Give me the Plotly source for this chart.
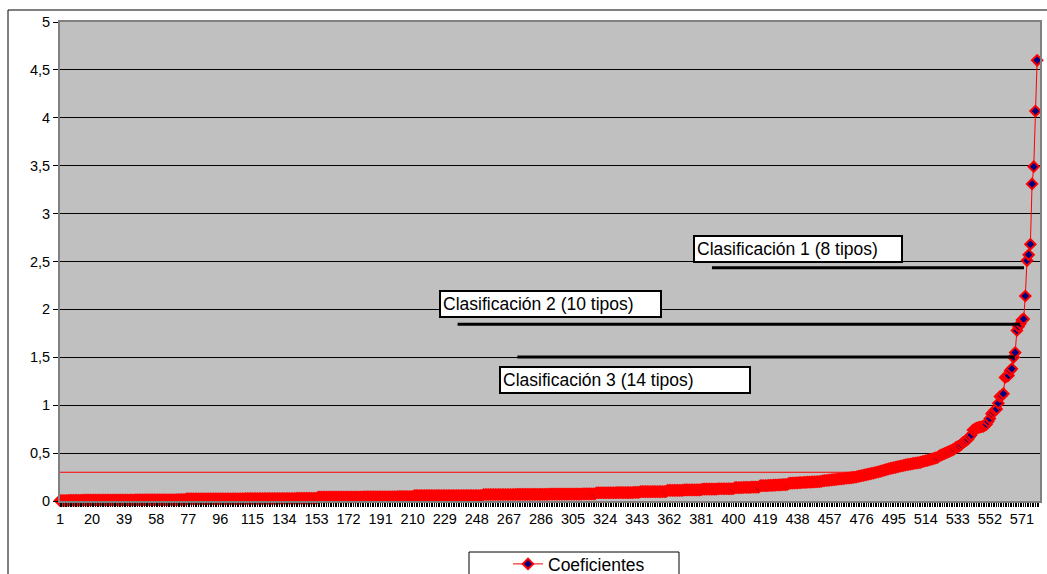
import plotly.graph_objects as go

# ---------------- data ----------------
coeficientes = [
    0.004, 0.004, 0.005, 0.005, 0.005, 0.006, 0.006, 0.006, 0.006, 0.007, 0.007, 0.007, 0.007, 0.007, 0.008, 0.008, 0.008, 0.008, 0.008, 0.008,
    0.009, 0.009, 0.009, 0.009, 0.009, 0.009, 0.009, 0.009, 0.009, 0.009, 0.010, 0.010, 0.010, 0.010, 0.010, 0.010, 0.010, 0.010, 0.010, 0.010,
    0.010, 0.010, 0.010, 0.010, 0.010, 0.011, 0.011, 0.011, 0.011, 0.011, 0.011, 0.011, 0.011, 0.011, 0.011, 0.012, 0.012, 0.012, 0.012, 0.012,
    0.012, 0.012, 0.012, 0.012, 0.012, 0.013, 0.013, 0.013, 0.013, 0.013, 0.014, 0.014, 0.014, 0.014, 0.014, 0.022, 0.022, 0.022, 0.022, 0.022,
    0.022, 0.022, 0.022, 0.022, 0.022, 0.022, 0.022, 0.022, 0.022, 0.022, 0.022, 0.022, 0.022, 0.022, 0.022, 0.023, 0.023, 0.023, 0.023, 0.023,
    0.023, 0.023, 0.023, 0.023, 0.023, 0.023, 0.023, 0.023, 0.023, 0.023, 0.024, 0.024, 0.024, 0.024, 0.024, 0.024, 0.024, 0.024, 0.024, 0.024,
    0.025, 0.025, 0.025, 0.025, 0.025, 0.025, 0.025, 0.025, 0.025, 0.025, 0.026, 0.026, 0.026, 0.026, 0.026, 0.026, 0.026, 0.026, 0.026, 0.026,
    0.027, 0.027, 0.027, 0.027, 0.027, 0.027, 0.027, 0.027, 0.027, 0.027, 0.027, 0.027, 0.027, 0.040, 0.040, 0.040, 0.040, 0.040, 0.040, 0.040,
    0.040, 0.040, 0.040, 0.040, 0.040, 0.040, 0.040, 0.040, 0.040, 0.040, 0.041, 0.041, 0.041, 0.041, 0.041, 0.041, 0.041, 0.041, 0.041, 0.041,
    0.042, 0.042, 0.042, 0.042, 0.042, 0.042, 0.042, 0.042, 0.042, 0.042, 0.043, 0.043, 0.043, 0.043, 0.043, 0.043, 0.043, 0.043, 0.043, 0.043,
    0.045, 0.045, 0.045, 0.045, 0.045, 0.045, 0.045, 0.045, 0.045, 0.045, 0.055, 0.055, 0.055, 0.055, 0.055, 0.055, 0.055, 0.055, 0.055, 0.055,
    0.055, 0.055, 0.055, 0.055, 0.055, 0.055, 0.055, 0.055, 0.055, 0.055, 0.056, 0.056, 0.056, 0.056, 0.056, 0.056, 0.056, 0.056, 0.056, 0.056,
    0.057, 0.057, 0.057, 0.057, 0.057, 0.057, 0.057, 0.057, 0.057, 0.057, 0.057, 0.068, 0.068, 0.068, 0.068, 0.068, 0.068, 0.068, 0.068, 0.068,
    0.068, 0.068, 0.068, 0.068, 0.068, 0.068, 0.068, 0.068, 0.068, 0.068, 0.069, 0.069, 0.069, 0.069, 0.069, 0.069, 0.069, 0.069, 0.069, 0.069,
    0.070, 0.070, 0.070, 0.070, 0.070, 0.070, 0.070, 0.070, 0.070, 0.070, 0.071, 0.071, 0.071, 0.071, 0.071, 0.071, 0.071, 0.071, 0.071, 0.071,
    0.072, 0.072, 0.072, 0.072, 0.072, 0.072, 0.072, 0.072, 0.072, 0.072, 0.074, 0.074, 0.074, 0.074, 0.074, 0.074, 0.074, 0.074, 0.086, 0.086,
    0.086, 0.086, 0.086, 0.086, 0.086, 0.086, 0.086, 0.086, 0.086, 0.086, 0.088, 0.088, 0.088, 0.088, 0.088, 0.088, 0.088, 0.088, 0.088, 0.088,
    0.090, 0.090, 0.090, 0.090, 0.097, 0.097, 0.097, 0.097, 0.097, 0.097, 0.097, 0.097, 0.099, 0.099, 0.099, 0.099, 0.099, 0.099, 0.099, 0.099,
    0.112, 0.112, 0.112, 0.112, 0.112, 0.112, 0.112, 0.112, 0.112, 0.112, 0.115, 0.115, 0.115, 0.115, 0.115, 0.115, 0.115, 0.115, 0.115, 0.115,
    0.118, 0.125, 0.125, 0.125, 0.125, 0.125, 0.125, 0.125, 0.125, 0.125, 0.128, 0.128, 0.128, 0.128, 0.128, 0.128, 0.128, 0.128, 0.128, 0.128,
    0.140, 0.140, 0.140, 0.140, 0.140, 0.142, 0.142, 0.142, 0.142, 0.142, 0.145, 0.145, 0.145, 0.145, 0.145, 0.160, 0.160, 0.160, 0.160, 0.160,
    0.162, 0.163, 0.164, 0.165, 0.166, 0.167, 0.168, 0.169, 0.170, 0.171, 0.172, 0.174, 0.185, 0.186, 0.187, 0.188, 0.189, 0.190, 0.191, 0.192,
    0.193, 0.194, 0.195, 0.196, 0.197, 0.198, 0.199, 0.200, 0.201, 0.202, 0.203, 0.205, 0.210, 0.212, 0.214, 0.216, 0.218, 0.220, 0.222, 0.224,
    0.226, 0.228, 0.230, 0.232, 0.234, 0.236, 0.238, 0.240, 0.242, 0.244, 0.246, 0.248, 0.252, 0.256, 0.260, 0.264, 0.268, 0.272, 0.276, 0.280,
    0.284, 0.288, 0.292, 0.296, 0.300, 0.305, 0.310, 0.315, 0.320, 0.325, 0.330, 0.335, 0.340, 0.344, 0.348, 0.352, 0.356, 0.360, 0.364, 0.368,
    0.372, 0.376, 0.380, 0.383, 0.386, 0.389, 0.392, 0.395, 0.398, 0.401, 0.404, 0.410, 0.415, 0.420, 0.425, 0.430, 0.435, 0.440, 0.445, 0.450,
    0.455, 0.470, 0.478, 0.486, 0.494, 0.502, 0.510, 0.518, 0.526, 0.534, 0.545, 0.560, 0.567, 0.575, 0.590, 0.610, 0.620, 0.632, 0.645, 0.670,
    0.690, 0.740, 0.750, 0.760, 0.765, 0.770, 0.775, 0.780, 0.790, 0.80, 0.83, 0.86, 0.91, 0.93, 0.95, 0.96, 1.02, 1.09, 1.10, 1.12,
    1.29, 1.30, 1.31, 1.36, 1.38, 1.50, 1.55, 1.78, 1.82, 1.85, 1.89, 1.90, 2.14, 2.51, 2.57, 2.68, 3.31, 3.49, 4.07, 4.60,
]
categorias = list(range(1, len(coeficientes) + 1))

x_tick_labels = [1, 20, 39, 58, 77, 96, 115, 134, 153, 172, 191, 210, 229, 248, 267,
                 286, 305, 324, 343, 362, 381, 400, 419, 438, 457, 476, 495, 514, 533, 552, 571]
y_tick_values = [0, 0.5, 1, 1.5, 2, 2.5, 3, 3.5, 4, 4.5, 5]

# classification threshold lines: (label, y value, start category, end category)
clasif_labels = ["Clasificación 1 (8 tipos)", "Clasificación 2 (10 tipos)", "Clasificación 3 (14 tipos)"]
clasif_y = [2.435, 1.844, 1.503]
clasif_x0 = [387.3, 236.6, 272.0]
clasif_x1 = [572.2, 569.8, 566.8]
umbral_rojo_y = 0.30
umbral_rojo_x1 = 479.2

# ---------------- figure ----------------
W, H = 1047, 574
L, R, T, B = 60, 7, 22, 73
PW, PH = W - L - R, H - T - B


def px(xp):
    return (xp - L) / PW


def py(yp):
    return (H - B - yp) / PH


FONT = "Arial, 'Liberation Sans', sans-serif"

fig = go.Figure()
fig.add_trace(go.Scatter(
    x=categorias, y=coeficientes, mode="lines+markers", name="Coeficientes",
    line=dict(color="#FF0000", width=1),
    marker=dict(symbol="diamond", size=8, color="#000080",
                line=dict(color="#FF0000", width=2)),
    cliponaxis=False,
))

shapes = []
# red threshold line
shapes.append(dict(type="line", xref="x", yref="y", x0=1, x1=umbral_rojo_x1,
                   y0=umbral_rojo_y, y1=umbral_rojo_y, line=dict(color="#FF0000", width=1.2)))
shapes.append(dict(type="line", xref="x", yref="y", x0=497, x1=506.4,
                   y0=0.41, y1=0.41, line=dict(color="#FF0000", width=1)))
for yv, a, b in zip(clasif_y, clasif_x0, clasif_x1):
    shapes.append(dict(type="line", xref="x", yref="y", x0=a, x1=b, y0=yv, y1=yv,
                       line=dict(color="#000000", width=3)))
# outer chart frame
shapes.append(dict(type="rect", xref="paper", yref="paper", x0=px(8), x1=px(1070),
                   y0=py(620), y1=py(10), line=dict(color="#000000", width=1), layer="below"))
# legend box
shapes.append(dict(type="rect", xref="paper", yref="paper", x0=px(469), x1=px(679),
                   y0=py(600), y1=py(552), line=dict(color="#000000", width=1),
                   fillcolor="#FFFFFF", layer="below"))

# boxes: (left px, top px, width px, height px)
boxes = [(693, 236, 210, 24), (439, 291, 223, 25), (499, 367, 252, 25)]
PAD = 2
annotations = []
for lab, (bl, bt, bw, bh) in zip(clasif_labels, boxes):
    annotations.append(dict(
        xref="paper", yref="paper", x=px(bl), y=py(bt - 1), xanchor="left", yanchor="top",
        text=lab, showarrow=False, align="left", valign="middle",
        width=bw - 2 * PAD - 4,
        borderpad=PAD, borderwidth=2, bordercolor="#000000", bgcolor="#FFFFFF",
        font=dict(family=FONT, size=17.5, color="#000000"),
    ))

fig.update_layout(
    width=W, height=H,
    margin=dict(l=L, r=R, t=T, b=B, pad=0, autoexpand=False),
    paper_bgcolor="#FFFFFF", plot_bgcolor="#C0C0C0",
    separators=",.",
    font=dict(family=FONT, size=14.5, color="#000000"),
    shapes=shapes, annotations=annotations,
    showlegend=True,
    legend=dict(x=px(508), y=py(546), xanchor="left", yanchor="top",
                bgcolor="rgba(0,0,0,0)", borderwidth=0,
                font=dict(family=FONT, size=17.5, color="#000000")),
    xaxis=dict(
        range=[1, 581.7], tickmode="array", tickvals=x_tick_labels,
        ticktext=[str(v) for v in x_tick_labels],
        ticks="outside", ticklen=4, tickcolor="#000000",
        showgrid=False, zeroline=False,
        showline=True, linecolor="#808080", linewidth=2, mirror=True,
        tickfont=dict(family=FONT, size=14.5, color="#000000"),
        minor=dict(tickmode="linear", tick0=1, dtick=1, ticks="outside", ticklen=4,
                   tickcolor="#000000", tickwidth=1, showgrid=False),
    ),
    yaxis=dict(
        range=[0, 5], tickmode="array", tickvals=y_tick_values,
        ticks="outside", ticklen=5, tickcolor="#000000",
        showgrid=True, gridcolor="#000000", gridwidth=1, zeroline=False,
        showline=True, linecolor="#808080", linewidth=2, mirror=True,
        tickfont=dict(family=FONT, size=14.5, color="#000000"),
    ),
)

fig.write_html("out.html", config={"displayModeBar": False},
               post_script="document.body.style.margin='0';document.body.style.overflow='hidden';")
